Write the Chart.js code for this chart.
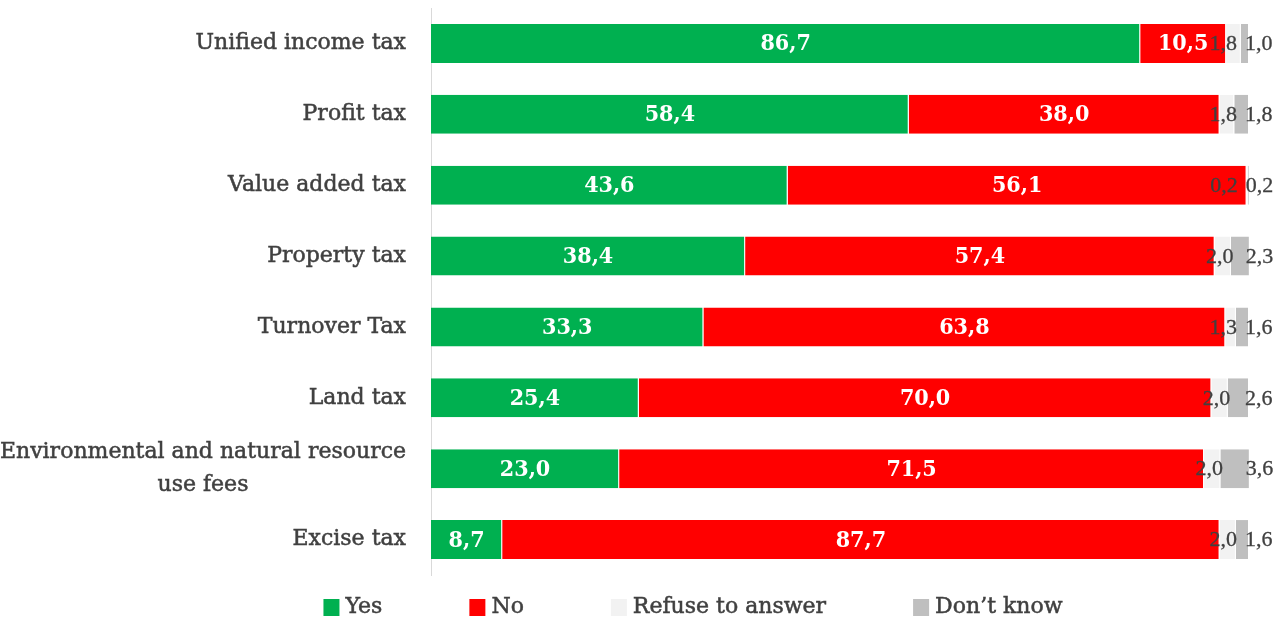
<!DOCTYPE html>
<html>
<head>
<meta charset="utf-8">
<script src="https://cdn.jsdelivr.net/npm/chart.js@4.4.1/dist/chart.umd.min.js"></script>
<style>
	html, body { margin: 0; padding: 0; background: #fff; }
	#wrap { width: 1286px; height: 619px; position: relative; }
</style>
</head>
<body>
<div id="wrap"><canvas id="plot"></canvas></div>
<script>
const categories = [
	'Unified income tax',
	'Profit tax',
	'Value added tax',
	'Property tax',
	'Turnover Tax',
	'Land tax',
	['Environmental and natural resource', 'use fees'],
	'Excise tax'
];
const yesValues = [86.7, 58.4, 43.6, 38.4, 33.3, 25.4, 23.0, 8.7];
const noValues = [10.5, 38.0, 56.1, 57.4, 63.8, 70.0, 71.5, 87.7];
const refuseValues = [1.8, 1.8, 0.2, 2.0, 1.3, 2.0, 2.0, 2.0];
const dontKnowValues = [1.0, 1.8, 0.2, 2.3, 1.6, 2.6, 3.6, 1.6];

const textColor = '#404040';
const serif = '"DejaVu Serif", serif';
const numFont = '"Liberation Serif", serif';
const bigFont = '"DejaVu Serif Condensed", "DejaVu Serif", serif';

function fmt(v) {
	return v.toFixed(1).replace('.', ',');
}

// slightly heavier text, closer to the original rendering
function heavyText(ctx, s, x, y, w) {
	ctx.lineWidth = w;
	ctx.strokeStyle = ctx.fillStyle;
	ctx.strokeText(s, x, y);
	ctx.fillText(s, x, y);
}

// value labels on the bars
const barLabels = {
	id: 'barLabels',
	afterDatasetsDraw(chart) {
		const ctx = chart.ctx;
		ctx.save();
		ctx.textBaseline = 'middle';
		const dkMeta = chart.getDatasetMeta(3);
		chart.data.datasets.forEach((ds, di) => {
			const meta = chart.getDatasetMeta(di);
			meta.data.forEach((bar, i) => {
				const s = fmt(ds.data[i]);
				const mid = (bar.x + bar.base) / 2;
				if (di < 2) {
					ctx.font = 'bold 23px ' + bigFont;
					ctx.fillStyle = '#fff';
					ctx.textAlign = 'center';
					ctx.fillText(s, mid, bar.y + 1);
				} else if (di === 2) {
					ctx.font = '22px ' + numFont;
					ctx.fillStyle = textColor;
					ctx.textAlign = 'center';
					const w = ctx.measureText(s).width;
					const dkLeft = dkMeta.data[i].x - 4;
					let cx = mid - 3;
					if (cx + w / 2 > dkLeft - 8) cx = dkLeft - 8 - w / 2;
					heavyText(ctx, s, cx, bar.y + 1, 0.3);
				} else {
					ctx.font = '22px ' + numFont;
					ctx.fillStyle = textColor;
					ctx.textAlign = 'left';
					heavyText(ctx, s, bar.x - 4, bar.y + 1, 0.3);
				}
			});
		});
		ctx.restore();
	}
};

// category labels, lines centred within each label block
const catLabels = {
	id: 'catLabels',
	afterDraw(chart) {
		const ctx = chart.ctx;
		const y = chart.scales.y;
		const right = chart.chartArea.left - 25;
		ctx.save();
		ctx.font = '22px ' + serif;
		ctx.fillStyle = textColor;
		ctx.textBaseline = 'middle';
		ctx.textAlign = 'center';
		categories.forEach((c, i) => {
			const lines = Array.isArray(c) ? c : [c];
			const w = Math.max(...lines.map(l => ctx.measureText(l).width));
			const cy = y.getPixelForTick(i);
			const lh = 33;
			lines.forEach((l, k) => {
				heavyText(ctx, l, right - w / 2, cy + (k - (lines.length - 1) / 2) * lh, 0.5);
			});
		});
		ctx.restore();
	}
};

// legend at the bottom
const bottomLegend = {
	id: 'bottomLegend',
	afterDraw(chart) {
		const ctx = chart.ctx;
		const box = 16, gapText = 6, gapItem = 87;
		ctx.save();
		ctx.font = '22px ' + serif;
		ctx.textBaseline = 'middle';
		ctx.textAlign = 'left';
		const items = chart.data.datasets.map(d => ({
			text: d.label, color: d.backgroundColor, w: ctx.measureText(d.label).width
		}));
		const total = items.reduce((s, it) => s + box + gapText + it.w, 0) + gapItem * (items.length - 1);
		let x = 693 - total / 2;
		const cy = 607;
		items.forEach(it => {
			ctx.fillStyle = it.color;
			ctx.fillRect(x, cy - 8, box, 17);
			ctx.fillStyle = textColor;
			heavyText(ctx, it.text, x + box + gapText, cy, 0.5);
			x += box + gapText + it.w + gapItem;
		});
		ctx.restore();
	}
};

function makeSet(label, data, color) {
	return {
		label: label,
		data: data,
		backgroundColor: color,
		borderColor: '#ffffff',
		borderWidth: { left: 0, right: 1, top: 0, bottom: 0 },
		borderSkipped: false,
		barPercentage: 0.55,
		categoryPercentage: 1
	};
}

const plot = new Chart(document.getElementById('plot').getContext('2d'), {
	type: 'bar',
	data: {
		labels: categories,
		datasets: [
			makeSet('Yes', yesValues, '#00b050'),
			makeSet('No', noValues, '#ff0000'),
			makeSet('Refuse to answer', refuseValues, '#f2f2f2'),
			makeSet('Don\u2019t know', dontKnowValues, '#bfbfbf')
		]
	},
	options: {
		indexAxis: 'y',
		responsive: true,
		maintainAspectRatio: false,
		animation: false,
		layout: {
			padding: {
				left: 0,
				right: 37,
				top: 8,
				bottom: 44
			}
		},
		plugins: {
			legend: { display: false },
			tooltip: { enabled: false }
		},
		scales: {
			x: {
				stacked: true,
				min: 0,
				max: 100,
				display: false
			},
			y: {
				stacked: true,
				afterFit(scale) {
					scale.width = 431;
				},
				grid: { display: false },
				border: { display: true, color: '#d9d9d9', width: 1 },
				ticks: { display: false }
			}
		}
	},
	plugins: [barLabels, catLabels, bottomLegend]
});
</script>
</body>
</html>
